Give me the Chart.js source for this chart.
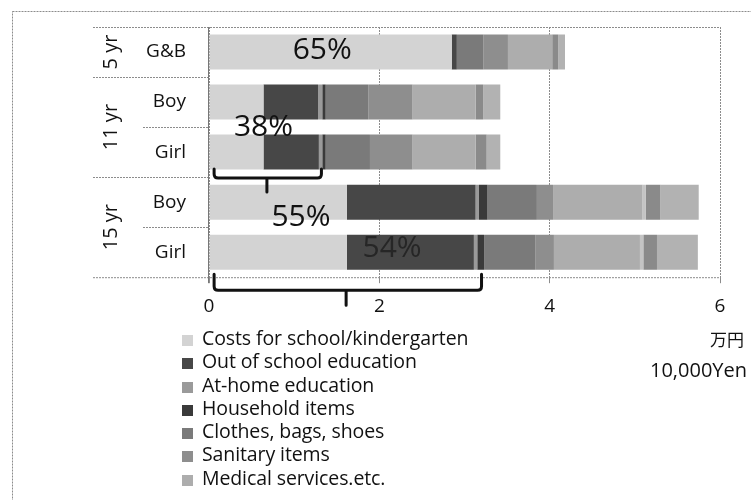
<!DOCTYPE html>
<html>
<head>
<meta charset="utf-8">
<script src="https://cdn.jsdelivr.net/npm/chart.js@4/dist/chart.umd.min.js"></script>
<style>
  html, body { margin: 0; padding: 0; background: #fff; }
  #wrap { position: relative; width: 751px; height: 500px; overflow: hidden; }
  #legend { position: absolute; left: 182px; top: 326px; font-family: "Open Sans", sans-serif; font-size: 19.5px; color: #111; }
  #legend div { height: 23.3px; line-height: 23.3px; white-space: nowrap; letter-spacing: -0.1px; }
  #legend span.sw { display: inline-block; width: 11px; height: 11px; margin-right: 9px; vertical-align: -1px; }
  .unit { position: absolute; font-family: "Open Sans", sans-serif; color: #111; white-space: nowrap; }
</style>
</head>
<body>
<div id="wrap">
  <canvas id="myChart" width="751" height="500"></canvas>
  <div id="legend"></div>
  <div class="unit" style="left:710px; top:326px; font-family:'Noto Sans CJK JP'; font-size:17px;">万円</div>
  <div class="unit" style="left:650px; top:356px; font-size:20px;">10,000Yen</div>
</div>
<script>
// rows from top to bottom
const rowLabels = ['G&B', 'Boy', 'Girl', 'Boy', 'Girl'];
const groupLabels = ['5 yr', '11 yr', '15 yr'];
const groupSizes = [1, 2, 2];
const xTicks = [0, 2, 4, 6];

const legendLabels = [
    'Costs for school/kindergarten',
    'Out of school education',
    'At-home education',
    'Household items',
    'Clothes, bags, shoes',
    'Sanitary items',
    'Medical services.etc.'
];

// 10,000 yen
const schoolCosts = [2.85, 0.64, 0.64, 1.62, 1.62];
const outOfSchool = [0.06, 0.64, 0.65, 1.51, 1.49];
const atHome = [0, 0.05, 0.04, 0.04, 0.04];
const household = [0, 0.04, 0.04, 0.10, 0.08];
const clothes = [0.31, 0.50, 0.52, 0.58, 0.60];
const sanitary = [0.29, 0.52, 0.50, 0.19, 0.22];
const medical = [0.52, 0.74, 0.74, 1.05, 1.01];
// items whose legend entries are below the visible part
const more1 = [0, 0, 0, 0.04, 0.04];
const more2 = [0.07, 0.09, 0.13, 0.17, 0.16];
const more3 = [0.08, 0.20, 0.16, 0.45, 0.48];

const seriesValues = [schoolCosts, outOfSchool, atHome, household, clothes, sanitary, medical, more1, more2, more3];
const seriesColors = ['#d3d3d3', '#474747', '#9a9a9a', '#3a3a3a', '#7a7a7a', '#8e8e8e', '#adadad', '#c4c4c4', '#8a8a8a', '#b2b2b2'];

let legendHtml = '';
for (let i = 0; i < legendLabels.length; i++) {
    legendHtml += '<div><span class="sw" style="background:' + seriesColors[i] + '"></span>' + legendLabels[i] + '</div>';
}
document.getElementById('legend').innerHTML = legendHtml;

const datasets = [];
for (let i = 0; i < seriesValues.length; i++) {
    datasets.push({
        label: legendLabels[i] || ('item ' + (i + 1)),
        data: seriesValues[i],
        backgroundColor: seriesColors[i],
        borderWidth: 0,
        barPercentage: 0.7,
        categoryPercentage: 1
    });
}

const FONT = '"Open Sans", sans-serif';

const decorPlugin = {
    id: 'decor',
    beforeDatasetsDraw(chart) {
        const ctx = chart.ctx;
        const a = chart.chartArea;
        const y = chart.scales.y;
        const rowH = y.getPixelForValue(1) - y.getPixelForValue(0);
        const catLeft = 93, subLeft = 143;
        ctx.save();
        ctx.strokeStyle = '#8c8c8c';
        ctx.lineWidth = 1;
        ctx.setLineDash([2, 1]);
        // outer frame
        ctx.strokeRect(12.5, 11.5, 800, 600);
        // plot frame and category table
        ctx.beginPath();
        ctx.moveTo(catLeft, a.top + 0.5); ctx.lineTo(a.right, a.top + 0.5);
        ctx.moveTo(catLeft, a.bottom + 0.5); ctx.lineTo(a.right, a.bottom + 0.5);
        ctx.moveTo(a.right + 0.5, a.top); ctx.lineTo(a.right + 0.5, a.bottom);
        let idx = 0;
        for (let g = 0; g < groupSizes.length; g++) {
            for (let k = 1; k < groupSizes[g]; k++) {
                const yy = Math.round(y.getPixelForValue(idx + k) - rowH / 2) + 0.5;
                ctx.moveTo(subLeft, yy); ctx.lineTo(a.left, yy);
            }
            idx += groupSizes[g];
            if (g < groupSizes.length - 1) {
                const yy = Math.round(y.getPixelForValue(idx) - rowH / 2) + 0.5;
                ctx.moveTo(catLeft, yy); ctx.lineTo(a.left, yy);
            }
        }
        ctx.stroke();
        ctx.setLineDash([]);
        ctx.strokeStyle = '#777';
        ctx.beginPath();
        ctx.moveTo(a.left - 0.5, a.top); ctx.lineTo(a.left - 0.5, a.bottom + 6);
        ctx.stroke();
        ctx.fillStyle = '#111';
        ctx.textBaseline = 'middle';
        // row labels
        ctx.font = '19px ' + FONT;
        ctx.textAlign = 'right';
        for (let i = 0; i < rowLabels.length; i++) {
            ctx.fillText(rowLabels[i], 186, y.getPixelForValue(i));
        }
        // group labels
        ctx.font = '20px ' + FONT;
        ctx.textAlign = 'center';
        idx = 0;
        for (let g = 0; g < groupSizes.length; g++) {
            const y0 = y.getPixelForValue(idx) - rowH / 2;
            const y1 = y.getPixelForValue(idx + groupSizes[g] - 1) + rowH / 2;
            ctx.save();
            ctx.translate(111, (y0 + y1) / 2);
            ctx.rotate(-Math.PI / 2);
            ctx.fillText(groupLabels[g], 0, 0);
            ctx.restore();
            idx += groupSizes[g];
        }
        ctx.restore();
    },
    afterDatasetsDraw(chart) {
        const ctx = chart.ctx;
        const x = chart.scales.x;
        const y = chart.scales.y;
        ctx.save();
        // share labels
        ctx.font = '30px ' + FONT;
        ctx.textAlign = 'center';
        ctx.textBaseline = 'middle';
        ctx.fillStyle = '#111';
        ctx.fillText('65%', x.getPixelForValue(1.33), y.getPixelForValue(0) - 2);
        ctx.fillText('38%', x.getPixelForValue(0.64), y.getPixelForValue(1) + 25);
        ctx.fillText('55%', x.getPixelForValue(1.08), y.getPixelForValue(3) + 15);
        ctx.fillStyle = '#262626';
        ctx.fillText('54%', x.getPixelForValue(2.15), y.getPixelForValue(4) - 4);
        // brackets
        ctx.strokeStyle = '#111';
        ctx.lineWidth = 3;
        ctx.lineJoin = 'round';
        ctx.lineCap = 'round';
        function bracket(v1, v2, vm, yTop, yLine, yTip) {
            const x1 = x.getPixelForValue(v1), x2 = x.getPixelForValue(v2), xm = x.getPixelForValue(vm);
            const r = 4;
            ctx.beginPath();
            ctx.moveTo(x1, yTop);
            ctx.lineTo(x1, yLine - r);
            ctx.quadraticCurveTo(x1, yLine, x1 + r, yLine);
            ctx.lineTo(x2 - r, yLine);
            ctx.quadraticCurveTo(x2, yLine, x2, yLine - r);
            ctx.lineTo(x2, yTop);
            ctx.moveTo(xm, yLine);
            ctx.lineTo(xm, yTip);
            ctx.stroke();
        }
        const c2 = y.getPixelForValue(2);
        bracket(0.06, 1.32, 0.68, c2 + 17, c2 + 26, c2 + 40);
        const c4 = y.getPixelForValue(4);
        bracket(0.06, 3.20, 1.61, c4 + 22, c4 + 38, c4 + 53);
        ctx.restore();
    }
};

const config = {
    type: 'bar',
    data: { labels: rowLabels, datasets: datasets },
    options: {
        indexAxis: 'y',
        responsive: false,
        animation: false,
        layout: { padding: { left: 93, right: 31, top: 27, bottom: 170 } },
        plugins: { legend: { display: false }, tooltip: { enabled: false } },
        scales: {
            x: {
                stacked: true,
                min: 0,
                max: 6,
                afterBuildTicks: function (scale) {
                    scale.ticks = xTicks.map(function (v) { return { value: v }; });
                },
                grid: { color: '#8c8c8c', tickLength: 6, drawTicks: true },
                border: { display: false, dash: [2, 1] },
                ticks: { padding: 12, color: '#111', font: { family: FONT, size: 19 } }
            },
            y: {
                stacked: true,
                afterFit: function (scale) { scale.width = 116; },
                grid: { display: false, drawTicks: false },
                border: { display: false },
                ticks: { display: false }
            }
        }
    },
    plugins: [decorPlugin]
};

const myChart = new Chart(document.getElementById('myChart'), config);
</script>
</body>
</html>
